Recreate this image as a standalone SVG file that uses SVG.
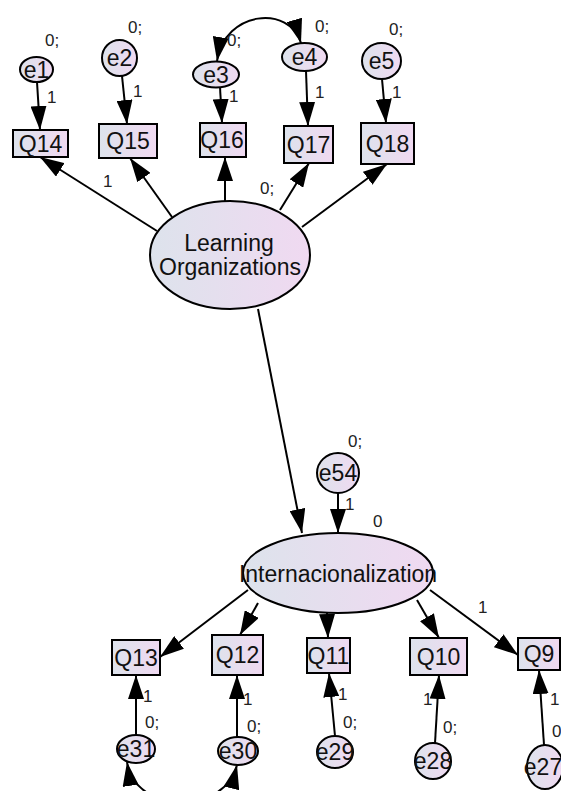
<svg xmlns="http://www.w3.org/2000/svg" width="561" height="791" viewBox="0 0 561 791">
<defs>
<linearGradient id="g" x1="0" y1="0" x2="1" y2="0">
<stop offset="0" stop-color="#dde3ec"/>
<stop offset="1" stop-color="#f0d9f1"/>
</linearGradient>
<marker id="ah" viewBox="0 0 24 16" refX="24" refY="8" markerWidth="24" markerHeight="16" markerUnits="userSpaceOnUse" orient="auto-start-reverse">
<path d="M0,0 L24,8 L0,16 z" fill="#000"/>
</marker>
<style>
.n{fill:url(#g);stroke:#000;stroke-width:2}
.t{font-family:"Liberation Sans",Arial,sans-serif;font-size:23px;fill:#111;text-anchor:middle}
.s{font-family:"Liberation Sans",Arial,sans-serif;font-size:17px;fill:#222}
.c{stroke:#000;stroke-width:2;fill:none;marker-end:url(#ah)}
.cv{stroke:#000;stroke-width:2;fill:none;marker-end:url(#ah);marker-start:url(#ah)}
</style>
</defs>
<rect width="561" height="791" fill="#fff"/>

<g id="e1"><ellipse class="n" cx="36.5" cy="69.5" rx="16.5" ry="12.5"/><text class="t" x="36.5" y="77.5">e1</text></g>
<g id="e2"><ellipse class="n" cx="119.5" cy="58" rx="17.5" ry="18"/><text class="t" x="119.5" y="66">e2</text></g>
<g id="e3"><ellipse class="n" cx="216" cy="74.5" rx="23" ry="13"/><text class="t" x="216" y="82.5">e3</text></g>
<g id="e4"><ellipse class="n" cx="304.5" cy="57" rx="22.5" ry="14"/><text class="t" x="304.5" y="65">e4</text></g>
<g id="e5"><ellipse class="n" cx="381.5" cy="61" rx="19.5" ry="18"/><text class="t" x="381.5" y="69">e5</text></g>

<g id="Q14"><rect class="n" x="13" y="130" width="55" height="27"/><text class="t" x="40.5" y="151.5">Q14</text></g>
<g id="Q15"><rect class="n" x="99" y="124" width="58" height="34"/><text class="t" x="128" y="149">Q15</text></g>
<g id="Q16"><rect class="n" x="200" y="123" width="46" height="34"/><text class="t" x="222" y="148">Q16</text></g>
<g id="Q17"><rect class="n" x="284" y="126" width="49" height="37"/><text class="t" x="308.5" y="152.5">Q17</text></g>
<g id="Q18"><rect class="n" x="361" y="123" width="53" height="41"/><text class="t" x="387.5" y="151.5">Q18</text></g>

<g id="LO"><ellipse class="n" cx="230" cy="255" rx="80" ry="54"/><text class="t" x="229" y="251" font-size="22">Learning</text><text class="t" x="230" y="275" font-size="22">Organizations</text></g>

<g id="e54"><ellipse class="n" cx="338" cy="473" rx="21" ry="20"/><text class="t" x="338" y="481">e54</text></g>
<g id="INT"><ellipse class="n" cx="338" cy="573" rx="95" ry="40"/><text class="t" x="338" y="582" font-size="22">Internacionalization</text></g>

<g id="Q13"><rect class="n" x="112" y="640" width="48" height="35"/><text class="t" x="136" y="665.5">Q13</text></g>
<g id="Q12"><rect class="n" x="212" y="635" width="51" height="40"/><text class="t" x="237.5" y="663">Q12</text></g>
<g id="Q11"><rect class="n" x="307" y="638" width="43" height="35"/><text class="t" x="328.5" y="663.5">Q11</text></g>
<g id="Q10"><rect class="n" x="410" y="638" width="57" height="37"/><text class="t" x="438.5" y="664.5">Q10</text></g>
<g id="Q9"><rect class="n" x="518" y="638" width="42" height="32"/><text class="t" x="539" y="662">Q9</text></g>

<g id="e31"><ellipse class="n" cx="136" cy="749" rx="19" ry="14"/><text class="t" x="136" y="757">e31</text></g>
<g id="e30"><ellipse class="n" cx="238" cy="751" rx="20" ry="14"/><text class="t" x="238" y="759">e30</text></g>
<g id="e29"><ellipse class="n" cx="335" cy="752" rx="18" ry="16"/><text class="t" x="335" y="760">e29</text></g>
<g id="e28"><ellipse class="n" cx="433" cy="761" rx="18" ry="18"/><text class="t" x="433" y="769">e28</text></g>
<g id="e27"><ellipse class="n" cx="545" cy="767" rx="18" ry="22"/><text class="t" x="543" y="775">e27</text></g>

<g id="connectors">
<line class="c" x1="37" y1="82" x2="40" y2="130"/>
<line class="c" x1="122" y1="76" x2="127" y2="124"/>
<line class="c" x1="220" y1="87" x2="222" y2="123"/>
<line class="c" x1="306" y1="71" x2="308" y2="126"/>
<line class="c" x1="382" y1="79" x2="386" y2="123"/>
<line class="c" x1="157" y1="231" x2="40" y2="157"/>
<line class="c" x1="172" y1="217" x2="130" y2="158"/>
<line class="c" x1="225" y1="201" x2="225" y2="157"/>
<line class="c" x1="280" y1="210" x2="309" y2="163"/>
<line class="c" x1="302" y1="227" x2="387" y2="164"/>
<line class="c" x1="258" y1="309" x2="302" y2="533"/>
<line class="c" x1="338" y1="493" x2="338" y2="533"/>
<line class="c" x1="248" y1="590" x2="160" y2="657"/>
<line class="c" x1="258" y1="603" x2="240" y2="635"/>
<line class="c" x1="327" y1="613" x2="328" y2="638"/>
<line class="c" x1="417" y1="600" x2="439" y2="638"/>
<line class="c" x1="430" y1="590" x2="518" y2="655"/>
<line class="c" x1="136" y1="735" x2="136" y2="675"/>
<line class="c" x1="237" y1="737" x2="237" y2="675"/>
<line class="c" x1="335" y1="736" x2="329" y2="673"/>
<line class="c" x1="435" y1="743" x2="439" y2="675"/>
<line class="c" x1="544" y1="745" x2="539" y2="670"/>
<path class="cv" d="M217,61 C225,10 290,5 301,43"/>
<path class="cv" d="M127,762 C135,815 225,815 237,765"/>
</g>

<g id="labels">
<text class="s" x="45" y="46">0;</text>
<text class="s" x="128" y="33">0;</text>
<text class="s" x="227" y="46">0;</text>
<text class="s" x="315" y="32">0;</text>
<text class="s" x="389" y="35">0;</text>
<text class="s" x="47" y="103">1</text>
<text class="s" x="133" y="97">1</text>
<text class="s" x="229" y="102">1</text>
<text class="s" x="315" y="98">1</text>
<text class="s" x="392" y="98">1</text>
<text class="s" x="103" y="187">1</text>
<text class="s" x="260" y="194">0;</text>
<text class="s" x="348" y="447">0;</text>
<text class="s" x="345" y="510">1</text>
<text class="s" x="373" y="527">0</text>
<text class="s" x="478" y="613">1</text>
<text class="s" x="143" y="702">1</text>
<text class="s" x="145" y="728">0;</text>
<text class="s" x="243" y="705">1</text>
<text class="s" x="247" y="732">0;</text>
<text class="s" x="338" y="700">1</text>
<text class="s" x="343" y="728">0;</text>
<text class="s" x="423" y="705">1</text>
<text class="s" x="443" y="733">0;</text>
<text class="s" x="550" y="705">1</text>
<text class="s" x="552" y="737">0</text>
</g>
</svg>
